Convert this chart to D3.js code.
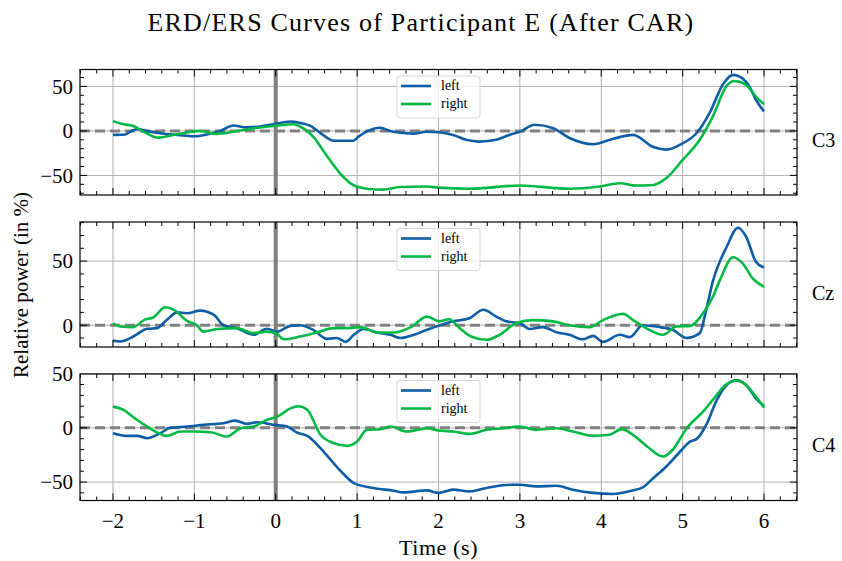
<!DOCTYPE html>
<html lang="en">
  <head>
    <meta charset="UTF-8" />
    <title>ERD/ERS Curves</title>
    <script src="https://cdnjs.cloudflare.com/ajax/libs/d3/7.8.5/d3.min.js"></script>
    <style>
      body {
        margin: 0;
        background: #fff;
      }
      svg text {
        font-family: "Liberation Serif", "DejaVu Serif", serif;
        fill: #000;
      }
    </style>
  </head>
  <body>
    <div id="chart"></div>
    <script>
      const width = 842;
      const height = 561;

      // channel names and legend labels
      const channels = ["C3", "Cz", "C4"];
      const seriesNames = ["left", "right"];
      const seriesColors = ["#0C5DA5", "#00B945"];

      // [time (s), relative power (%)]
      const c3Left = [[-2,-4.5],[-1.85,-4],[-1.77,0],[-1.7,2],[-1.58,0],[-1.4,-3],[-1.21,-4.5],[-1.0,-6],[-0.8,-3],[-0.68,0],[-0.52,6],[-0.36,4],[-0.19,5],[-0.03,7.5],[0.18,10.5],[0.3,9],[0.42,6],[0.58,-4.5],[0.71,-11],[0.95,-11],[1.03,-5.5],[1.16,1],[1.28,3.5],[1.44,-1],[1.69,-3],[1.85,-1],[2.0,-1.5],[2.18,-4.5],[2.34,-10],[2.5,-12],[2.71,-10],[2.87,-4.5],[3.0,-1],[3.18,7],[3.41,3],[3.61,-8],[3.9,-15],[4.14,-9],[4.39,-4.5],[4.64,-18],[4.8,-21],[5.0,-14],[5.17,-2.6],[5.33,20],[5.5,53],[5.62,63],[5.7,61],[5.82,50],[5.9,35],[6.0,22]];
      const c3Right = [[-2,11],[-1.87,7.5],[-1.75,5.6],[-1.62,-1],[-1.44,-7.5],[-1.26,-4.5],[-1.1,-2],[-0.93,0],[-0.73,-3.4],[-0.52,-1],[-0.27,3],[-0.03,5.6],[0.22,7.5],[0.3,5],[0.46,-6.4],[0.62,-27],[0.79,-47.6],[0.95,-60.7],[1.12,-65],[1.32,-66],[1.53,-63],[1.85,-62.5],[2.0,-63.7],[2.38,-65],[3.0,-61.4],[3.61,-65],[3.98,-62.5],[4.23,-58.8],[4.43,-61.4],[4.64,-60.7],[4.8,-53],[5.0,-32.6],[5.21,-10],[5.37,16],[5.54,50.6],[5.64,56],[5.78,51.7],[5.9,38.6],[6.0,30]];
      const czLeft = [[-2,-12],[-1.91,-12.7],[-1.75,-8.8],[-1.58,-2.8],[-1.46,-2.3],[-1.34,4],[-1.21,10],[-1.09,9.3],[-0.93,11.4],[-0.76,8],[-0.64,0],[-0.48,-2.3],[-0.27,-7.5],[-0.11,-2.8],[0.02,-5],[0.18,-0.5],[0.3,0],[0.47,-4],[0.63,-10.6],[0.75,-10],[0.86,-13],[0.96,-7.5],[1.08,-3],[1.25,-5.7],[1.41,-7.5],[1.53,-10],[1.7,-7.5],[1.86,-3.6],[2.0,-0.5],[2.18,3],[2.38,5.4],[2.55,12],[2.71,6.7],[2.83,3],[3.0,1.5],[3.12,-3],[3.28,-1.5],[3.45,-5.4],[3.61,-7.5],[3.77,-11],[3.9,-8.3],[4.02,-13],[4.23,-7.5],[4.35,-9.3],[4.51,0],[4.72,-1.5],[4.88,-3.6],[5.05,-10],[5.21,-6.2],[5.29,12],[5.37,34],[5.54,61],[5.68,76],[5.78,69],[5.9,49.5],[6.0,45]];
      const czRight = [[-2,1.5],[-1.91,-1],[-1.75,-1.5],[-1.62,4],[-1.5,6.2],[-1.36,14],[-1.25,12],[-1.09,3.4],[-0.97,0],[-0.89,-5],[-0.72,-3],[-0.48,-2.3],[-0.27,-6.2],[-0.11,-5],[0.01,-6.7],[0.1,-11],[0.3,-8.8],[0.5,-5.7],[0.71,-2.3],[0.88,-2.3],[1.04,-1.5],[1.25,-5.7],[1.45,-5.7],[1.66,-1.5],[1.86,6.7],[2.01,3],[2.13,4.7],[2.26,-2.3],[2.4,-8.8],[2.59,-11.4],[2.75,-7.5],[2.95,1.5],[3.16,4],[3.41,3],[3.61,0],[3.86,-1.5],[4.02,4],[4.27,8.8],[4.39,4],[4.55,-2.3],[4.76,-7.5],[4.92,-1],[5.09,-0.5],[5.25,9.3],[5.37,22],[5.45,34],[5.62,53],[5.74,48],[5.86,36.5],[6.0,30]];
      const c4Left = [[-2,-5],[-1.83,-7.4],[-1.7,-7.4],[-1.58,-9.5],[-1.42,-5],[-1.3,0],[-1.09,1.2],[-0.89,2.8],[-0.64,4.3],[-0.5,6.7],[-0.35,3.7],[-0.23,5.2],[-0.02,2.8],[0.14,1.2],[0.26,-4.3],[0.39,-7.4],[0.55,-18.7],[0.71,-32.5],[0.84,-43],[0.96,-51],[1.2,-55.5],[1.45,-58],[1.57,-59.5],[1.86,-57.7],[2.0,-60],[2.18,-57],[2.38,-58.6],[2.59,-55.5],[2.88,-52.5],[3.0,-52.5],[3.2,-54],[3.45,-53.4],[3.65,-57],[3.9,-60],[4.14,-61],[4.39,-57.7],[4.51,-55],[4.64,-46.3],[4.8,-35.6],[4.97,-21.8],[5.09,-12.6],[5.17,-10.4],[5.29,2.8],[5.42,25.8],[5.54,39.6],[5.66,44],[5.78,39.6],[5.9,27.3],[6.0,20.2]];
      const c4Right = [[-2,19.6],[-1.87,16.6],[-1.75,9.8],[-1.58,1.2],[-1.42,-5.5],[-1.34,-7.4],[-1.17,-3.4],[-1.0,-3.4],[-0.8,-4],[-0.6,-8],[-0.43,-0.3],[-0.27,1.2],[-0.11,7.4],[0.02,10.4],[0.18,18],[0.28,20],[0.39,16.6],[0.55,-6.4],[0.71,-14],[0.88,-16.6],[1.0,-12.6],[1.12,-1.8],[1.29,-1.2],[1.41,1.2],[1.61,-3.4],[1.86,-0.3],[2.0,-2.5],[2.18,-3.4],[2.38,-5.5],[2.59,-1.8],[2.8,-0.3],[3.0,1.2],[3.2,-1.8],[3.45,-0.3],[3.65,-3.4],[3.9,-7.4],[4.1,-6.4],[4.25,-1.2],[4.39,-6.4],[4.56,-17],[4.76,-26.4],[4.88,-20],[5.05,-0.3],[5.25,15],[5.37,25.8],[5.54,40.5],[5.66,43.6],[5.78,39.6],[5.9,28.8],[6.0,18.7]];

      const channelData = [
        [c3Left, c3Right],
        [czLeft, czRight],
        [c4Left, c4Right],
      ];

      // axis limits and ticks
      const xDomain = [-2.405, 6.405];
      const xTicks = [-2, -1, 0, 1, 2, 3, 4, 5, 6];
      const yDomains = [[-72, 69], [-17, 80.5], [-67, 49.7]];
      const yTicks = [[-50, 0, 50], [0, 50], [-50, 0, 50]];

      // layout
      const left = 80, right = 797;
      const panels = [
        { top: 69.5, bottom: 195 },
        { top: 222, bottom: 347 },
        { top: 374, bottom: 500.5 },
      ];

      const svg = d3
        .select("#chart")
        .append("svg")
        .attr("width", width)
        .attr("height", height);

      const x = d3.scaleLinear().domain(xDomain).range([left, right]);
      const fmt = (d) => (d < 0 ? "\u2212" + Math.abs(d) : "" + d);

      panels.forEach((p, i) => {
        const y = d3.scaleLinear().domain(yDomains[i]).range([p.bottom, p.top]);
        const g = svg.append("g");

        // grid
        g.selectAll(".vgrid")
          .data(xTicks)
          .enter()
          .append("line")
          .attr("x1", (d) => x(d))
          .attr("x2", (d) => x(d))
          .attr("y1", p.top)
          .attr("y2", p.bottom)
          .attr("stroke", "#b0b0b0")
          .attr("stroke-width", 1);
        g.selectAll(".hgrid")
          .data(yTicks[i])
          .enter()
          .append("line")
          .attr("x1", left)
          .attr("x2", right)
          .attr("y1", (d) => y(d))
          .attr("y2", (d) => y(d))
          .attr("stroke", "#b0b0b0")
          .attr("stroke-width", 1);

        // reference lines
        g.append("line")
          .attr("x1", x(0))
          .attr("x2", x(0))
          .attr("y1", p.top)
          .attr("y2", p.bottom)
          .attr("stroke", "#808080")
          .attr("stroke-width", 4);
        g.append("line")
          .attr("x1", left)
          .attr("x2", right)
          .attr("y1", y(0))
          .attr("y2", y(0))
          .attr("stroke", "#808080")
          .attr("stroke-width", 3)
          .attr("stroke-dasharray", "10,5");

        // curves
        const line = d3
          .line()
          .x((d) => x(d[0]))
          .y((d) => y(d[1]))
          .curve(d3.curveMonotoneX);
        channelData[i].forEach((series, k) => {
          g.append("path")
            .datum(series)
            .attr("fill", "none")
            .attr("stroke", seriesColors[k])
            .attr("stroke-width", 2.6)
            .attr("stroke-linejoin", "round")
            .attr("d", line);
        });

        // ticks (inward, all four sides)
        const xMinor = d3.range(-2.4, 6.41, 0.2).map((v) => Math.round(v * 10) / 10);
        const yMinor = d3.range(-100, 101, 10).filter(
          (v) => v >= yDomains[i][0] && v <= yDomains[i][1]
        );
        const tickG = g.append("g").attr("stroke", "#000").attr("stroke-width", 1);
        xMinor.forEach((v) => {
          const major = xTicks.includes(v);
          const len = major ? 7 : 4;
          if (v < xDomain[0] || v > xDomain[1]) return;
          tickG.append("line").attr("x1", x(v)).attr("x2", x(v)).attr("y1", p.bottom).attr("y2", p.bottom - len);
          tickG.append("line").attr("x1", x(v)).attr("x2", x(v)).attr("y1", p.top).attr("y2", p.top + len);
        });
        yMinor.forEach((v) => {
          const major = yTicks[i].includes(v);
          const len = major ? 7 : 4;
          tickG.append("line").attr("x1", left).attr("x2", left + len).attr("y1", y(v)).attr("y2", y(v));
          tickG.append("line").attr("x1", right).attr("x2", right - len).attr("y1", y(v)).attr("y2", y(v));
        });

        // frame
        g.append("rect")
          .attr("x", left)
          .attr("y", p.top)
          .attr("width", right - left)
          .attr("height", p.bottom - p.top)
          .attr("fill", "none")
          .attr("stroke", "#000")
          .attr("stroke-width", 1.2);

        // y tick labels
        g.selectAll(".ylab")
          .data(yTicks[i])
          .enter()
          .append("text")
          .attr("x", left - 7)
          .attr("y", (d) => y(d))
          .attr("dy", "0.35em")
          .attr("text-anchor", "end")
          .attr("font-size", 21)
          .text(fmt);

        // x tick labels on the bottom panel only
        if (i === panels.length - 1) {
          g.selectAll(".xlab")
            .data(xTicks)
            .enter()
            .append("text")
            .attr("x", (d) => x(d))
            .attr("y", p.bottom + 27)
            .attr("text-anchor", "middle")
            .attr("font-size", 21)
            .text(fmt);
        }

        // channel label on the right
        g.append("text")
          .attr("x", 812)
          .attr("y", (p.top + p.bottom) / 2 + 15)
          .attr("font-size", 20)
          .text(channels[i]);

        // legend
        const lx = (left + right) / 2 - 41.5;
        const ly = p.top + 6.5;
        const leg = g.append("g").attr("transform", `translate(${lx},${ly})`);
        leg.append("rect")
          .attr("width", 83)
          .attr("height", 42)
          .attr("rx", 3)
          .attr("fill", "rgba(255,255,255,0.8)")
          .attr("stroke", "#d6d6d6")
          .attr("stroke-width", 1);
        seriesNames.forEach((name, k) => {
          const yy = 10 + k * 18;
          leg.append("line")
            .attr("x1", 4)
            .attr("x2", 34)
            .attr("y1", yy)
            .attr("y2", yy)
            .attr("stroke", seriesColors[k])
            .attr("stroke-width", 2.6);
          leg.append("text")
            .attr("x", 44)
            .attr("y", yy)
            .attr("dy", "0.32em")
            .attr("font-size", 14)
            .text(name);
        });
      });

      // title and axis labels
      svg.append("text")
        .attr("x", width / 2)
        .attr("y", 31)
        .attr("text-anchor", "middle")
        .attr("font-size", 26)
        .attr("letter-spacing", 1.2)
        .text("ERD/ERS Curves of Participant E (After CAR)");

      svg.append("text")
        .attr("x", (left + right) / 2)
        .attr("y", 555)
        .attr("text-anchor", "middle")
        .attr("font-size", 22)
        .attr("letter-spacing", 0.6)
        .text("Time (s)");

      svg.append("text")
        .attr("transform", `translate(28, ${(panels[0].top + panels[2].bottom) / 2}) rotate(-90)`)
        .attr("text-anchor", "middle")
        .attr("font-size", 21)
        .text("Relative power (in %)");
    </script>
  </body>
</html>
